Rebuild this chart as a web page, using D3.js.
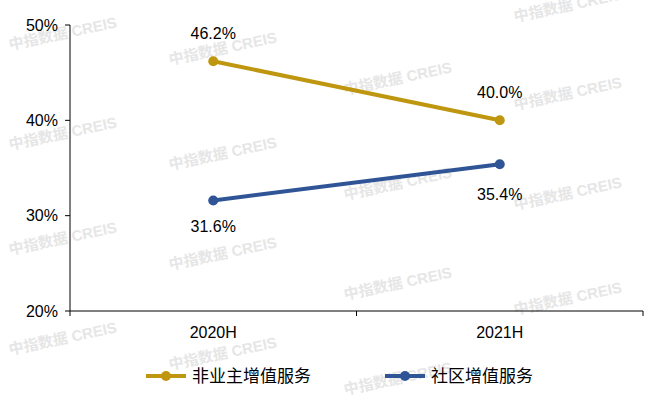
<!DOCTYPE html>
<html><head><meta charset="utf-8">
<script src="https://cdn.jsdelivr.net/npm/d3@7"></script>
<style>body{margin:0;background:#fff}text{font-family:"Liberation Sans","Noto Sans CJK SC",sans-serif}</style>
</head><body><div id="graph"></div>
<script>
var categories = ['2020H', '2021H']
var seriesNames = ['非业主增值服务', '社区增值服务']
var nonOwner = [46.2, 40.0]
var community = [31.6, 35.4]
var yTicks = [20, 30, 40, 50]
var colors = ['#BF960F', '#2F5597']

var W = 672, H = 402
var svg = d3.select('#graph').append('svg').attr('width', W).attr('height', H)

// watermarks
var wm = [[10,50],[170,65],[345,95],[515,22],[10,150],[170,170],[345,200],[515,110],[10,255],[170,270],[345,300],[515,210],[10,355],[170,370],[345,395],[515,315]]
svg.selectAll('text.wm').data(wm).enter().append('text')
    .attr('transform', function(d){ return 'translate(' + d[0] + ',' + d[1] + ') rotate(-12)' })
    .attr('fill', '#e6e6e6').attr('font-size', 15).attr('font-weight', 'bold')
    .text('中指数据 CREIS')

var x = d3.scaleBand().domain(categories).range([70, 643])
var y = d3.scaleLinear().domain([20, 50]).range([311, 25])

svg.append('line').attr('x1', 70).attr('x2', 70).attr('y1', 25).attr('y2', 311).attr('stroke', '#000')
svg.append('line').attr('x1', 70).attr('x2', 643).attr('y1', 311).attr('y2', 311).attr('stroke', '#000')
svg.selectAll('line.tk').data([70, 356.5, 643]).enter().append('line')
    .attr('x1', function(d){ return d }).attr('x2', function(d){ return d })
    .attr('y1', 311).attr('y2', 316).attr('stroke', '#000')
svg.selectAll('line.yt').data(yTicks).enter().append('line')
    .attr('x1', 65).attr('x2', 70).attr('y1', y).attr('y2', y).attr('stroke', '#000')
svg.selectAll('text.yl').data(yTicks).enter().append('text')
    .attr('x', 58).attr('y', y).attr('dy', '.35em').attr('text-anchor', 'end')
    .attr('font-size', 16).text(function(d){ return d + '%' })
svg.selectAll('text.xl').data(categories).enter().append('text')
    .attr('x', function(d){ return x(d) + x.bandwidth()/2 }).attr('y', 338)
    .attr('text-anchor', 'middle').attr('font-size', 16).text(function(d){ return d })

var cx = function(d, i){ return x(categories[i]) + x.bandwidth()/2 }
var series = [nonOwner, community]
series.forEach(function(vals, s){
  var line = d3.line().x(function(d, i){ return cx(d, i) }).y(function(d){ return y(d) })
  svg.append('path').datum(vals).attr('d', line).attr('fill', 'none')
      .attr('stroke', colors[s]).attr('stroke-width', 4)
  svg.selectAll(null).data(vals).enter().append('circle')
      .attr('cx', cx).attr('cy', y).attr('r', 5).attr('fill', colors[s])
  svg.selectAll(null).data(vals).enter().append('text')
      .attr('x', cx).attr('y', function(d, i){ return y(d) + (s === 0 ? -22 : (i === 0 ? 32 : 36)) })
      .attr('text-anchor', 'middle').attr('font-size', 16)
      .text(function(d){ return d.toFixed(1) + '%' })
})

var lg = svg.selectAll('g.lg').data(seriesNames).enter().append('g')
    .attr('transform', function(d, i){ return 'translate(' + (146 + i*239) + ',376)' })
lg.append('line').attr('x1', 0).attr('x2', 40).attr('stroke', function(d, i){ return colors[i] }).attr('stroke-width', 4)
lg.append('circle').attr('cx', 20).attr('r', 5).attr('fill', function(d, i){ return colors[i] })
lg.append('text').attr('x', 46).attr('dy', '.35em').attr('font-size', 17).text(function(d){ return d })
</script></body></html>
